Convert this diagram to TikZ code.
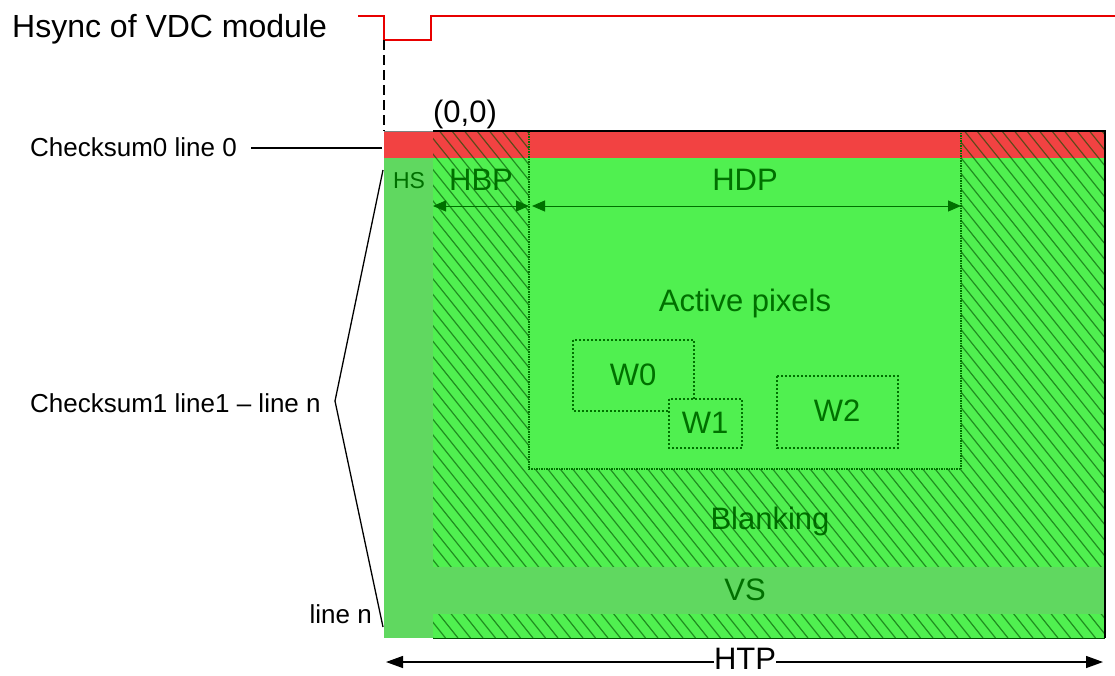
\documentclass[tikz,border=0pt]{standalone}
\usepackage{fontspec}
\setmainfont{Liberation Sans}
\usetikzlibrary{arrows.meta}
\definecolor{gmain}{RGB}{80,240,80}
\definecolor{gdark}{RGB}{96,216,96}
\definecolor{rband}{RGB}{242,66,66}
\definecolor{gtext}{RGB}{0,112,0}
\definecolor{hatchc}{RGB}{0,78,0}
\definecolor{sigred}{RGB}{232,0,0}
\begin{document}
\begin{tikzpicture}[x=1pt,y=-1pt,
  lbl/.style={inner sep=0pt, anchor=base, font=\fontsize{31}{36}\selectfont},
  small/.style={inner sep=0pt, anchor=base, font=\fontsize{26}{30}\selectfont},
  gl/.style={lbl, text=gtext},
  win/.style={draw=gtext, line width=1.4pt, dash pattern=on 2pt off 2pt},
  dim/.style={gtext, line width=1pt, {Triangle[length=13pt,width=11pt]}-{Triangle[length=13pt,width=11pt]}},
  lead/.style={black, line width=1.3pt},
  hatchline/.style={hatchc, line width=1.2pt, opacity=.6},
]
\useasboundingbox (0,0) rectangle (1115,675);

% ---- frame coordinates
\coordinate (TL) at (384,131);
\coordinate (TR) at (1105,131);
\coordinate (BR) at (1105,638);
\coordinate (BL) at (433,638);

% ---- base fills
\fill[gmain] (384,131) rectangle (1105,638);
\fill[rband] (384,131) rectangle (1105,158);

% Blanking label (under the hatch)
\node[gl] (blank) at (770,529) {Blanking};

% ---- hatch of blanking region
\begin{scope}
  \clip (433,131) rectangle (1105,638);
  \foreach \i in {0,...,88}
    \draw[hatchline] (27+\i*12.5,131) -- ++(406,507);
\end{scope}

% ---- active area
\fill[gmain] (529,158) rectangle (961,469);
\fill[rband] (529,131) rectangle (961,158);
\draw[gtext, line width=1.2pt, dash pattern=on 1.5pt off 1pt] (529,131) -- (529,469) -- (961,469) -- (961,131);

% ---- HS column and VS band
\fill[gdark] (384,158) rectangle (433,638);
\fill[rband] (384,131) rectangle (433,158);
\fill[gdark] (433,567) rectangle (1105,614);

% ---- frame lines
\draw[gray, line width=1pt] (TL) -- (433,131);
\draw[black, line width=1.8pt] (433,131) -- (TR) -- (BR);
\draw[hatchc, line width=1pt] (BL) -- (BR);

% ---- Hsync signal
\node[inner sep=0pt, anchor=base west, font=\fontsize{32}{36}\selectfont] (hsync) at (12,37) {Hsync of VDC module};
\coordinate (s0) at (358,16);
\coordinate (s1) at (384,16);
\coordinate (s2) at (384,40);
\coordinate (s3) at (431,40);
\coordinate (s4) at (431,16);
\coordinate (s5) at (1115,16);
\draw[sigred, line width=1.5pt] (s0) -- (s1) -- (s2) -- (s3) -- (s4) -- (s5);
\draw[black, line width=1.5pt, dash pattern=on 10pt off 5pt] (s2) -- (TL);

\node[lbl] (origin) at (465,122) {(0,0)};

% ---- left labels
\node[small, anchor=base west] (cs0) at (30,156) {Checksum0 line 0};
\coordinate (cs0a) at (251,148);
\coordinate (cs0b) at (382,148);
\draw[lead] (cs0a) -- (cs0b);

\node[small, anchor=base west] (cs1) at (30,412) {Checksum1 line1 – line n};
\coordinate (b0) at (383,170);
\coordinate (b1) at (335,401);
\coordinate (b2) at (383,627);
\draw[lead] (b0) -- (b1) -- (b2);

\node[small, anchor=base east] (linen) at (372,623) {line n};

% ---- inner labels
\node[inner sep=0pt, anchor=base, font=\fontsize{23}{27}\selectfont, text=gtext] (hs) at (409,188) {HS};
\node[gl] (hbp) at (481,190) {HBP};
\node[gl] (hdp) at (745,190) {HDP};
\node[gl] (act) at (745,311) {Active pixels};
\node[gl] (vs) at (745,600) {VS};

\coordinate (hbpL) at (433,206);
\coordinate (hbpR) at (529,206);
\coordinate (hdpL) at (532,206);
\coordinate (hdpR) at (961,206);
\draw[dim] (hbpL) -- (hbpR);
\draw[dim] (hdpL) -- (hdpR);

% ---- windows
\draw[win] (573,340) rectangle (694,411);
\node[gl] (w0) at (633,385) {W0};
\draw[win, fill=gmain] (669,399) rectangle (742,448);
\node[gl] (w1) at (705,433) {W1};
\draw[win] (777,376) rectangle (898,448);
\node[gl] (w2) at (837,421) {W2};

% ---- HTP
\node[lbl] (htp) at (745,669) {HTP};
\coordinate (htpL) at (386,662);
\coordinate (htpR) at (1103,662);
\draw[black, line width=1.3pt, -{Triangle[length=17pt,width=12pt]}] (htp.west |- htpL) -- (htpL);
\draw[black, line width=1.3pt, -{Triangle[length=17pt,width=12pt]}] (htp.east |- htpR) -- (htpR);
\end{tikzpicture}
\end{document}
